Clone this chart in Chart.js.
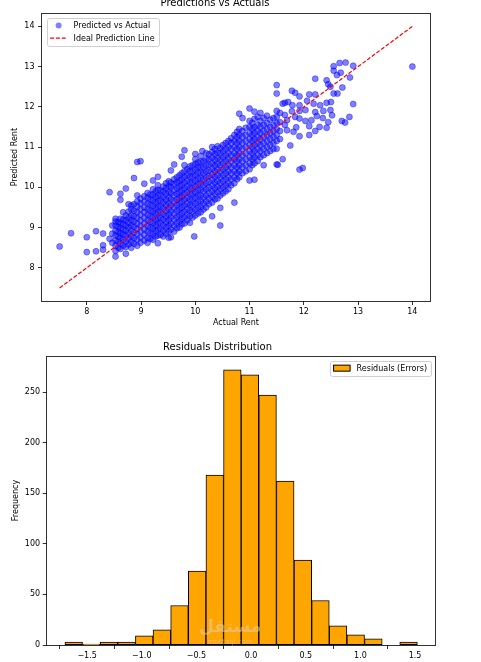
<!DOCTYPE html>
<html>
<head>
<meta charset="utf-8">
<script src="https://cdn.jsdelivr.net/npm/chart.js@4.4.0/dist/chart.umd.min.js"></script>
<style>
  html, body { margin: 0; padding: 0; background: #fff; }
  body { width: 481px; height: 662px; position: relative; overflow: hidden; }
  .box { position: absolute; left: 0; width: 481px; }
  #topBox { top: -10px; height: 345px; }
  #bottomBox { top: 335px; height: 327px; }
</style>
</head>
<body>
<div class="box" id="topBox"><canvas id="scatterChart"></canvas></div>
<div class="box" id="bottomBox"><canvas id="histChart"></canvas></div>
<script>
// actual rent values (one per column of points)
const actualRent = [
  7.50, 7.71, 8.00, 8.17, 8.30, 8.42, 8.47, 8.53, 8.58, 8.62,
  8.67, 8.72, 8.77, 8.82, 8.87, 8.93, 8.99, 9.06, 9.12, 9.17,
  9.22, 9.27, 9.31, 9.36, 9.41, 9.46, 9.51, 9.55, 9.61, 9.66,
  9.71, 9.75, 9.80, 9.85, 9.90, 9.95, 9.98, 10.00, 10.05, 10.10,
  10.13, 10.15, 10.20, 10.25, 10.31, 10.36, 10.41, 10.46, 10.51, 10.56,
  10.61, 10.66, 10.72, 10.77, 10.81, 10.87, 10.93, 11.00, 11.05, 11.09,
  11.15, 11.20, 11.26, 11.32, 11.38, 11.44, 11.50, 11.52, 11.56, 11.61,
  11.65, 11.69, 11.71, 11.75, 11.78, 11.79, 11.81, 11.84, 11.86, 11.92,
  11.98, 12.03, 12.06, 12.10, 12.14, 12.18, 12.21, 12.24, 12.29, 12.30,
  12.35, 12.36, 12.42, 12.45, 12.49, 12.50, 12.52, 12.55, 12.61, 12.62,
  12.66, 12.68, 12.70, 12.71, 12.76, 12.77, 12.84, 12.85, 12.91, 14.00
];

// predicted rent for each actual value above
const predictedRent = [
  [8.53],
  [8.86],
  [8.76, 8.39],
  [8.91, 8.41],
  [8.85, 8.56, 8.45],
  [9.88, 8.72],
  [8.62, 8.85, 9.05],
  [8.28, 8.42, 8.55, 8.68, 8.80, 8.92, 9.05, 9.15, 9.22],
  [8.50, 8.65, 8.78, 8.90, 9.02, 9.14],
  [9.84, 9.69, 8.47, 8.60, 8.74, 8.86, 8.98, 9.10, 9.22],
  [8.55, 8.70, 8.83, 8.95, 9.08, 9.20, 9.38],
  [9.97, 8.35, 8.52, 8.66, 8.80, 8.93, 9.05, 9.18, 9.30],
  [9.58, 8.58, 8.72, 8.86, 9.00, 9.12, 9.25, 9.40],
  [8.50, 8.64, 8.78, 8.92, 9.05, 9.18, 9.30, 9.45, 9.55],
  [10.23, 8.60, 8.74, 8.88, 9.02, 9.15, 9.28, 9.42, 9.58],
  [10.63, 9.80, 8.55, 8.70, 8.84, 8.97, 9.10, 9.24, 9.38, 9.52, 9.65],
  [10.65, 8.62, 8.76, 8.90, 9.04, 9.18, 9.32, 9.46, 9.60, 9.72],
  [10.09, 8.68, 8.82, 8.96, 9.10, 9.24, 9.38, 9.50, 9.64, 9.78],
  [8.62, 8.75, 8.90, 9.04, 9.18, 9.32, 9.46, 9.60, 9.74, 9.86],
  [8.72, 8.86, 9.00, 9.14, 9.28, 9.42, 9.56, 9.70, 9.82],
  [10.17, 8.70, 8.84, 8.98, 9.12, 9.26, 9.40, 9.54, 9.68, 9.82, 9.95],
  [8.78, 8.92, 9.06, 9.20, 9.34, 9.48, 9.62, 9.76, 9.90],
  [10.26, 8.61, 8.80, 8.95, 9.10, 9.24, 9.38, 9.52, 9.66, 9.80, 9.94, 10.05],
  [8.82, 8.96, 9.10, 9.24, 9.38, 9.52, 9.66, 9.80, 9.92],
  [8.78, 8.92, 9.06, 9.20, 9.34, 9.48, 9.62, 9.76, 9.90, 10.02],
  [8.85, 9.00, 9.14, 9.28, 9.42, 9.56, 9.70, 9.84, 9.98, 10.10],
  [8.75, 8.90, 9.04, 9.18, 9.32, 9.46, 9.60, 9.74, 9.88, 10.02, 10.15],
  [10.42, 8.76, 8.95, 9.10, 9.25, 9.40, 9.55, 9.70, 9.85, 10.00, 10.12],
  [10.57, 8.90, 9.05, 9.20, 9.35, 9.50, 9.65, 9.80, 9.94, 10.08, 10.20],
  [8.98, 9.12, 9.27, 9.42, 9.56, 9.70, 9.84, 9.98, 10.12, 10.25],
  [9.00, 9.15, 9.30, 9.45, 9.60, 9.74, 9.88, 10.02, 10.16, 10.30],
  [10.76, 9.08, 9.22, 9.36, 9.50, 9.64, 9.78, 9.92, 10.06, 10.20, 10.35],
  [10.92, 9.10, 9.25, 9.40, 9.55, 9.70, 9.84, 9.98, 10.12, 10.26, 10.40, 10.55],
  [9.18, 9.32, 9.46, 9.60, 9.74, 9.88, 10.02, 10.16, 10.30, 10.45],
  [9.12, 9.28, 9.42, 9.56, 9.70, 9.84, 9.98, 10.12, 10.26, 10.40, 10.52],
  [9.25, 9.40, 9.55, 9.70, 9.84, 9.98, 10.12, 10.26, 10.40, 10.55],
  [8.78],
  [10.83, 9.30, 9.45, 9.60, 9.74, 9.88, 10.02, 10.16, 10.30, 10.44, 10.58, 10.70],
  [9.35, 9.50, 9.65, 9.80, 9.94, 10.08, 10.22, 10.36, 10.50, 10.62],
  [9.38, 9.52, 9.66, 9.80, 9.94, 10.08, 10.22, 10.36, 10.50, 10.64, 10.78],
  [10.90],
  [9.18, 9.45, 9.60, 9.75, 9.90, 10.05, 10.20, 10.35, 10.50, 10.65],
  [9.50, 9.65, 9.80, 9.95, 10.10, 10.25, 10.40, 10.55, 10.70, 10.85],
  [9.58, 9.72, 9.86, 10.00, 10.14, 10.28, 10.42, 10.56, 10.70, 10.82],
  [9.28, 9.62, 9.76, 9.90, 10.04, 10.18, 10.32, 10.46, 10.60, 10.74, 10.88, 11.00],
  [9.70, 9.84, 9.98, 10.12, 10.26, 10.40, 10.54, 10.68, 10.82, 10.95],
  [9.72, 9.88, 10.02, 10.16, 10.30, 10.44, 10.58, 10.72, 10.86, 11.02],
  [9.05, 9.49, 9.80, 9.95, 10.10, 10.25, 10.40, 10.55, 10.70, 10.85, 10.98],
  [9.85, 10.00, 10.15, 10.30, 10.45, 10.60, 10.75, 10.90, 11.05],
  [9.90, 10.05, 10.20, 10.35, 10.50, 10.65, 10.80, 10.95, 11.10],
  [9.95, 10.10, 10.25, 10.40, 10.55, 10.70, 10.85, 11.00, 11.15],
  [10.05, 10.20, 10.35, 10.50, 10.65, 10.80, 10.95, 11.10, 11.22],
  [9.62, 10.10, 10.25, 10.40, 10.55, 10.70, 10.85, 11.00, 11.15, 11.30],
  [10.20, 10.35, 10.50, 10.65, 10.80, 10.95, 11.10, 11.25, 11.38],
  [11.83, 10.25, 10.40, 10.55, 10.70, 10.85, 11.00, 11.15, 11.30, 11.45],
  [11.72, 10.35, 10.50, 10.65, 10.80, 10.95, 11.10, 11.25, 11.40],
  [10.40, 10.55, 10.70, 10.85, 11.00, 11.15, 11.30, 11.48],
  [11.96, 10.17, 10.45, 10.60, 10.75, 10.90, 11.05, 11.20, 11.35, 11.50, 11.65],
  [10.55, 10.70, 10.85, 11.00, 11.15, 11.30, 11.45, 11.60],
  [10.19, 10.60, 10.75, 10.90, 11.05, 11.20, 11.35, 11.50, 11.70, 11.88],
  [10.65, 10.80, 10.95, 11.10, 11.25, 11.40, 11.55, 11.75],
  [10.75, 10.90, 11.05, 11.20, 11.35, 11.50, 11.65, 11.85],
  [10.55, 10.80, 10.95, 11.10, 11.25, 11.40, 11.55, 11.72],
  [10.85, 11.00, 11.15, 11.30, 11.45, 11.60, 11.78],
  [10.90, 11.05, 11.20, 11.35, 11.50, 11.68],
  [10.95, 11.10, 11.25, 11.40, 11.55, 11.72],
  [12.54, 12.33, 10.96, 10.57, 11.15, 11.30, 11.45, 11.60, 11.75, 11.90],
  [10.56],
  [11.20, 11.40, 11.62, 11.85],
  [10.70, 12.08],
  [12.10, 11.55, 11.80],
  [11.67, 11.42],
  [12.12],
  [11.04],
  [12.40, 11.89],
  [12.04],
  [11.38],
  [12.35, 11.75],
  [11.49],
  [12.26, 12.04, 11.90, 11.71, 10.44, 11.27],
  [10.48],
  [11.92, 11.65],
  [12.15],
  [12.31, 11.52, 11.30],
  [11.67],
  [12.08],
  [12.70, 12.31, 11.87, 11.40],
  [11.77],
  [11.50],
  [12.04],
  [11.72],
  [11.90],
  [12.66, 12.10, 11.48],
  [12.56, 11.62],
  [12.50, 11.92],
  [12.12],
  [11.79],
  [13.01, 12.90, 12.33],
  [12.79],
  [12.33],
  [13.09],
  [12.85],
  [11.65],
  [12.48],
  [11.61],
  [13.10],
  [11.75],
  [12.73],
  [13.02, 12.07],
  [13.00]
];

const rentTicks = [8, 9, 10, 11, 12, 13, 14];

// residual histogram (20 bins)
const residualEdges = [-1.703, -1.542, -1.381, -1.219, -1.058, -0.897, -0.736, -0.574, -0.413, -0.252,
  -0.091, 0.070, 0.232, 0.393, 0.554, 0.715, 0.876, 1.038, 1.199, 1.360, 1.521];
const residualCounts = [3, 1, 3, 3, 9, 15, 39, 73, 168, 272, 267, 247, 162, 84, 44, 19, 10, 6, 0, 3];
const residualTicks = [-1.5, -1.0, -0.5, 0.0, 0.5, 1.0, 1.5];
const frequencyTicks = [0, 50, 100, 150, 200, 250];

if (actualRent.length !== predictedRent.length) console.error('scatter columns do not match');

Chart.defaults.font.family = '"DejaVu Sans", sans-serif';
Chart.defaults.color = '#000';

// box around the plot area, like matplotlib spines
const axesFrame = {
  id: 'axesFrame',
  afterDraw(chart) {
    const { ctx, chartArea: a } = chart;
    ctx.save();
    ctx.strokeStyle = 'rgba(0,0,0,0.8)';
    ctx.lineWidth = 1;
    ctx.strokeRect(Math.round(a.left) - 0.5, Math.round(a.top) + 0.5,
      Math.round(a.right - a.left) + 1, Math.round(a.bottom - a.top));
    ctx.restore();
  }
};

// legend inside the axes with a light frame
const frameLegend = {
  id: 'frameLegend',
  afterDraw(chart, args, opts) {
    if (!opts.corner) return;
    const { ctx, chartArea: a } = chart;
    const sets = chart.data.datasets;
    ctx.save();
    ctx.font = '8px "DejaVu Sans"';
    const textW = Math.max(...sets.map(d => ctx.measureText(d.label).width));
    const rowH = 12.7;
    const w = 3.4 + 17 + 6.5 + textW + 4;
    const h = sets.length * rowH + 2.6;
    const x = opts.corner === 'left' ? a.left + 4.7 : a.right - 4 - w;
    const y = a.top + 4.5;
    ctx.beginPath();
    ctx.roundRect(Math.round(x) + 0.5, Math.round(y) + 0.5, Math.round(w), Math.round(h), 2);
    ctx.fillStyle = 'rgba(255,255,255,0.8)';
    ctx.fill();
    ctx.strokeStyle = '#d0d0d0';
    ctx.lineWidth = 1;
    ctx.stroke();
    sets.forEach((d, i) => {
      const cy = y + 1.3 + rowH / 2 + i * rowH;
      const hx = x + 3.4;
      const kind = d.type || chart.config.type;
      if (kind === 'line') {
        ctx.strokeStyle = d.borderColor;
        ctx.lineWidth = d.borderWidth;
        ctx.setLineDash(d.borderDash || []);
        ctx.beginPath();
        ctx.moveTo(hx, cy);
        ctx.lineTo(hx + 17, cy);
        ctx.stroke();
        ctx.setLineDash([]);
      } else if (kind === 'bar') {
        ctx.fillStyle = d.backgroundColor;
        ctx.fillRect(hx, cy - 3, 17, 6);
        ctx.strokeStyle = d.borderColor;
        ctx.lineWidth = 1;
        ctx.strokeRect(hx + 0.5, cy - 3, 16.5, 6);
      } else {
        ctx.fillStyle = d.backgroundColor;
        ctx.beginPath();
        ctx.arc(hx + 8.5, cy, d.pointRadius, 0, Math.PI * 2);
        ctx.fill();
      }
      ctx.fillStyle = '#000';
      ctx.textBaseline = 'middle';
      ctx.fillText(d.label, hx + 17 + 6.5, cy + 0.5);
    });
    ctx.restore();
  }
};

// faint site watermark seen on the histogram
const watermark = {
  id: 'watermark',
  afterDraw(chart, args, opts) {
    if (!opts.text) return;
    const { ctx, chartArea: a } = chart;
    const cx = (a.left + a.right) / 2;
    ctx.save();
    ctx.fillStyle = 'rgba(225,205,175,0.55)';
    ctx.textAlign = 'center';
    ctx.textBaseline = 'middle';
    ctx.font = 'bold 17px "DejaVu Sans"';
    ctx.fillText(opts.text, cx - 11, a.bottom - 17);
    ctx.font = '7px "DejaVu Sans"';
    ctx.fillText(opts.sub, cx - 11, a.bottom - 3);
    ctx.restore();
  }
};

// ---------- scatter: Predictions vs Actuals ----------
const scatterPoints = [];
actualRent.forEach((a, i) => {
  predictedRent[i].forEach(p => scatterPoints.push({ x: a, y: p }));
});
const rentLo = Math.min(...actualRent);
const rentHi = Math.max(...actualRent);
const rentPad = (rentHi - rentLo) * 0.05;

const tickFont = { size: 8 };

new Chart(document.getElementById('scatterChart'), {
  type: 'scatter',
  data: {
    datasets: [
      {
        label: 'Predicted vs Actual',
        data: scatterPoints,
        backgroundColor: 'rgba(0,0,255,0.5)',
        borderColor: 'rgba(0,0,255,0.5)',
        borderWidth: 0.8,
        pointRadius: 3,
        order: 2
      },
      {
        type: 'line',
        label: 'Ideal Prediction Line',
        data: [{ x: rentLo, y: rentLo }, { x: rentHi, y: rentHi }],
        borderColor: '#ff0000',
        borderWidth: 1.2,
        borderDash: [4, 1.8],
        pointRadius: 0,
        fill: false,
        order: 1
      }
    ]
  },
  options: {
    responsive: true,
    maintainAspectRatio: false,
    animation: false,
    events: [],
    layout: { padding: { left: 0, right: 51, top: 0, bottom: 7.2 } },
    scales: {
      x: {
        type: 'linear',
        min: rentLo - rentPad,
        max: rentHi + rentPad,
        afterBuildTicks: s => { s.ticks = rentTicks.map(v => ({ value: v })); },
        ticks: { font: tickFont, padding: 2, maxRotation: 0 },
        grid: { drawOnChartArea: false, tickLength: 4, color: '#000', lineWidth: 0.8 },
        border: { display: false },
        title: { display: true, text: 'Actual Rent', font: { size: 8 }, padding: { top: 0, bottom: 0 } },
        afterFit: s => { s.height = 26.8; }
      },
      y: {
        type: 'linear',
        min: rentLo - rentPad,
        max: rentHi + rentPad,
        afterBuildTicks: s => { s.ticks = rentTicks.map(v => ({ value: v })); },
        ticks: { font: tickFont, padding: 3.5 },
        grid: { drawOnChartArea: false, tickLength: 4, color: '#000', lineWidth: 0.8 },
        border: { display: false },
        title: { display: true, text: 'Predicted Rent', font: { size: 8 }, padding: { top: 10.5, bottom: 0 } },
        afterFit: s => { s.width = 42; }
      }
    },
    plugins: {
      legend: { display: false },
      tooltip: { enabled: false },
      title: {
        display: true,
        text: 'Predictions vs Actuals',
        font: { size: 10, weight: 'normal' },
        color: '#000',
        padding: { top: 7.5, bottom: 3.8 }
      },
      frameLegend: { corner: 'left' }
    }
  },
  plugins: [axesFrame, frameLegend]
});

// ---------- histogram: Residuals Distribution ----------
const binPoints = residualCounts.map((c, i) => ({
  x: (residualEdges[i] + residualEdges[i + 1]) / 2,
  y: c
}));
const resLo = residualEdges[0];
const resHi = residualEdges[residualEdges.length - 1];
const resPad = (resHi - resLo) * 0.05;

new Chart(document.getElementById('histChart'), {
  type: 'bar',
  data: {
    datasets: [{
      label: 'Residuals (Errors)',
      data: binPoints,
      backgroundColor: '#ffa500',
      borderColor: '#000',
      borderWidth: 1,
      borderSkipped: false,
      barPercentage: 1,
      categoryPercentage: 1
    }]
  },
  options: {
    responsive: true,
    maintainAspectRatio: false,
    animation: false,
    events: [],
    layout: { padding: { left: 0, right: 46, top: 0, bottom: 0 } },
    scales: {
      x: {
        type: 'linear',
        offset: false,
        min: resLo - resPad,
        max: resHi + resPad,
        afterBuildTicks: s => { s.ticks = residualTicks.map(v => ({ value: v })); },
        ticks: {
          font: tickFont, padding: 2, maxRotation: 0,
          callback: v => v.toFixed(1).replace('-', '\u2212')
        },
        grid: { drawOnChartArea: false, tickLength: 4, color: '#000', lineWidth: 0.8 },
        border: { display: false },
        afterFit: s => { s.height = 17; }
      },
      y: {
        type: 'linear',
        min: 0,
        max: Math.max(...residualCounts) * 1.05,
        afterBuildTicks: s => { s.ticks = frequencyTicks.map(v => ({ value: v })); },
        ticks: { font: tickFont, padding: 2.6 },
        grid: { drawOnChartArea: false, tickLength: 4.6, color: '#000', lineWidth: 0.8 },
        border: { display: false },
        title: { display: true, text: 'Frequency', font: { size: 8 }, padding: { top: 11.2, bottom: 0 } },
        afterFit: s => { s.width = 47.3; }
      }
    },
    plugins: {
      legend: { display: false },
      tooltip: { enabled: false },
      title: {
        display: true,
        text: 'Residuals Distribution',
        font: { size: 10, weight: 'normal' },
        color: '#000',
        padding: { top: 6, bottom: 3 }
      },
      frameLegend: { corner: 'right' },
      watermark: { text: 'مستقل', sub: 'mostaql.com' }
    }
  },
  plugins: [axesFrame, frameLegend, watermark]
});
</script>
</body>
</html>
